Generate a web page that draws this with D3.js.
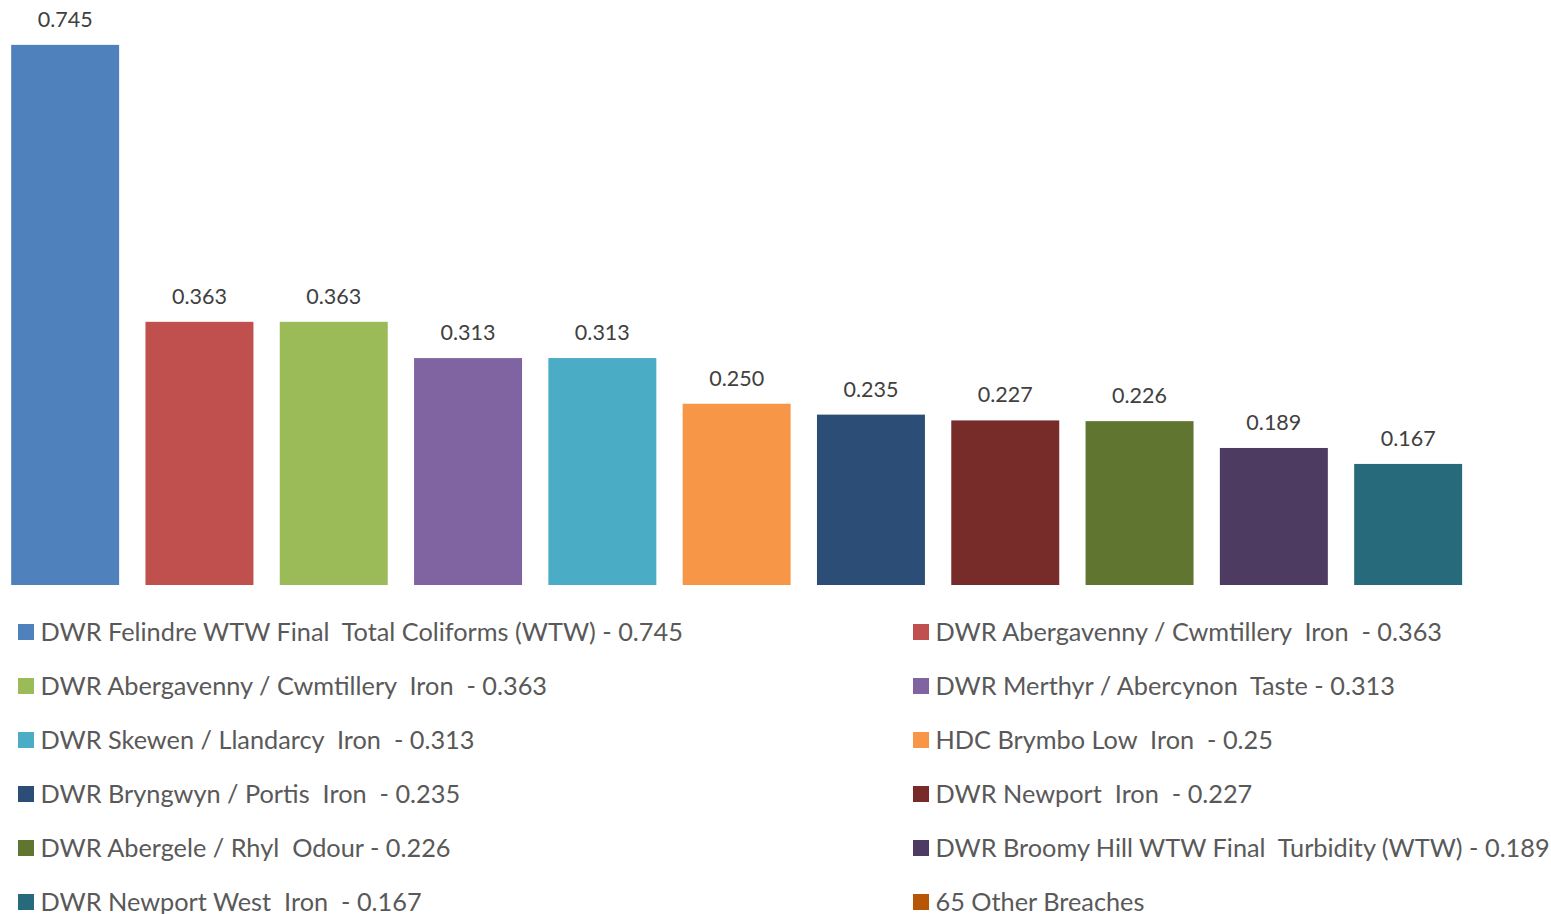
<!DOCTYPE html>
<html><head><meta charset="utf-8">
<script src="https://cdn.jsdelivr.net/npm/d3@7"></script>
<style>html,body{margin:0;padding:0;background:#fff;overflow:hidden}</style>
</head><body>
<svg id="c" width="1551" height="914"></svg>
<script>
const names = [
  "DWR Felindre WTW Final  Total Coliforms (WTW) - 0.745",
  "DWR Abergavenny / Cwmtillery  Iron  - 0.363",
  "DWR Abergavenny / Cwmtillery  Iron  - 0.363",
  "DWR Merthyr / Abercynon  Taste - 0.313",
  "DWR Skewen / Llandarcy  Iron  - 0.313",
  "HDC Brymbo Low  Iron  - 0.25",
  "DWR Bryngwyn / Portis  Iron  - 0.235",
  "DWR Newport  Iron  - 0.227",
  "DWR Abergele / Rhyl  Odour - 0.226",
  "DWR Broomy Hill WTW Final  Turbidity (WTW) - 0.189",
  "DWR Newport West  Iron  - 0.167",
  "65 Other Breaches"
];
const values = [0.745, 0.363, 0.363, 0.313, 0.313, 0.250, 0.235, 0.227, 0.226, 0.189, 0.167, null];
const colors = ["#4F81BD","#C0504D","#9BBB59","#8064A2","#4BACC6","#F79646","#2C4D75","#772C2A","#5F7530","#4D3B62","#276A7C","#B65708"];
const labelFormat = d3.format(".3f");

const svg = d3.select("#c");
const ids = d3.range(names.length);
const x = d3.scaleBand().domain(ids).range([-2, -2 + 12*134.3]).paddingInner(0.196).paddingOuter(0.098);
const y = d3.scaleLinear().domain([0, 0.8]).range([585, 5]);

const data = ids.map(i => ({i, name: names[i], v: values[i], c: colors[i]}));
const withVal = data.filter(d => d.v != null);

svg.append("g").selectAll("rect").data(withVal).join("rect")
  .attr("x", d => x(d.i)).attr("width", x.bandwidth())
  .attr("y", d => y(d.v)).attr("height", d => y(0) - y(d.v))
  .attr("fill", d => d.c);

svg.append("g").selectAll("text").data(withVal).join("text")
  .attr("x", d => x(d.i) + x.bandwidth()/2)
  .attr("y", d => y(d.v) - 18)
  .attr("text-anchor", "middle")
  .attr("font-family", "Lato, 'Open Sans', sans-serif")
  .attr("font-size", 21.5)
  .attr("fill", "#404040")
  .text(d => labelFormat(d.v));

const leg = svg.append("g").selectAll("g").data(data).join("g")
  .attr("transform", d => `translate(${d.i % 2 === 0 ? 18 : 913},${632 + Math.floor(d.i/2)*54})`);
leg.append("rect").attr("x", 0).attr("y", -8).attr("width", 16).attr("height", 16).attr("fill", d => d.c);
leg.append("text").attr("x", 22.5).attr("y", 8.5)
  .attr("font-family", "Lato, 'Open Sans', sans-serif")
  .attr("font-size", 25.3)
  .attr("fill", "#595959")
  .style("white-space", "pre")
  .text(d => d.name);
</script>
</body></html>
